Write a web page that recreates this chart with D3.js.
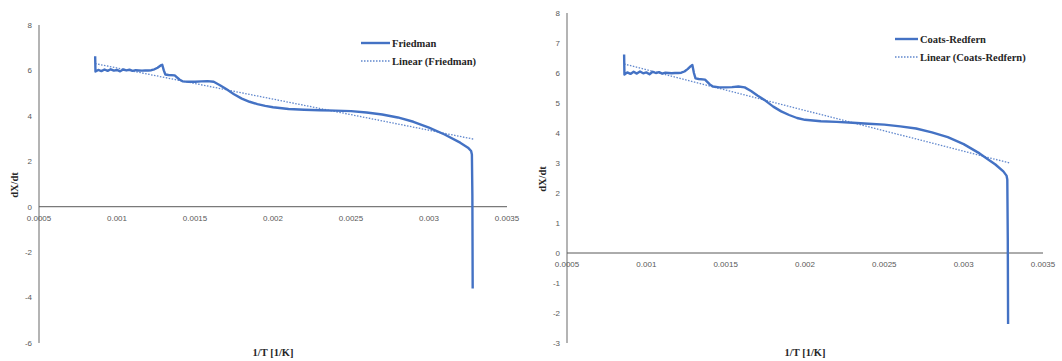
<!DOCTYPE html>
<html lang="en">
<head>
    <meta charset="UTF-8">
    <title>dX/dt vs 1/T</title>
    <script src="https://d3js.org/d3.v7.min.js"></script>
    <style>
        body { margin: 0; background: #fff; }
        .tick-label { font-family: "Liberation Sans", Arial, sans-serif; font-size: 8px; fill: #595959; }
        .title { font-family: "Liberation Serif", "Times New Roman", serif; font-size: 10.5px; font-weight: bold; fill: #262626; }
    </style>
</head>
<body>
    <div class="charts"></div>
    <script>
        // 1/T [1/K]
        const invT = [0.00086, 0.000862, 0.00088, 0.0009, 0.00092, 0.00094, 0.00096, 0.00098, 0.001, 0.00102,
            0.00104, 0.00106, 0.00108, 0.0011, 0.00112, 0.00114, 0.00116, 0.00118, 0.0012, 0.00122,
            0.00124, 0.00126, 0.00128, 0.00129, 0.0013, 0.00131, 0.00133, 0.00137, 0.0014, 0.00142,
            0.00146, 0.0015, 0.00154, 0.00158, 0.00162, 0.00166, 0.0017, 0.00175, 0.0018, 0.00185,
            0.0019, 0.00195, 0.002, 0.0021, 0.0022, 0.0023, 0.0024, 0.0025, 0.0026, 0.0027,
            0.0028, 0.0029, 0.003, 0.0031, 0.0032, 0.00325, 0.00327, 0.003275, 0.003278, 0.00328];

        const friedman = [6.62, 5.95, 6.02, 5.97, 6.04, 5.98, 6.05, 5.99, 6.02, 5.96,
            6.04, 6.0, 6.03, 5.98, 6.01, 6.0, 5.99, 6.0, 6.0, 6.01,
            6.05, 6.12, 6.22, 6.25, 6.0, 5.82, 5.8, 5.78, 5.6, 5.52,
            5.5, 5.5, 5.52, 5.53, 5.5, 5.35, 5.18, 4.95, 4.76, 4.62,
            4.52, 4.44, 4.38, 4.3, 4.27, 4.25, 4.23, 4.21, 4.15, 4.06,
            3.93, 3.74, 3.48, 3.18, 2.82, 2.6, 2.45, 2.3, 0.5, -3.6];

        const coatsRedfern = [6.62, 5.95, 6.02, 5.97, 6.04, 5.98, 6.05, 5.99, 6.02, 5.96,
            6.04, 6.0, 6.03, 5.98, 6.01, 6.0, 5.99, 6.0, 6.0, 6.01,
            6.05, 6.13, 6.23, 6.27, 6.0, 5.82, 5.8, 5.78, 5.62, 5.55,
            5.52, 5.52, 5.53, 5.55, 5.52, 5.4, 5.25, 5.08, 4.88, 4.72,
            4.6, 4.5, 4.44, 4.39, 4.37, 4.34, 4.31, 4.28, 4.22, 4.15,
            4.02, 3.86, 3.63, 3.32, 2.95, 2.72, 2.58, 2.45, 0.5, -2.37];

        // linear trend lines (end points)
        const trendX = [0.00086, 0.00329];
        const trendFriedman = [6.3, 2.97];
        const trendCoats = [6.3, 3.0];

        const xTicks = [0.0005, 0.001, 0.0015, 0.002, 0.0025, 0.003, 0.0035];
        const yTicksLeft = [-6, -4, -2, 0, 2, 4, 6, 8];
        const yTicksRight = [-3, -2, -1, 0, 1, 2, 3, 4, 5, 6, 7, 8];

        const blue = '#4472C4';

        const svg = d3.select('.charts')
            .append('svg')
            .attr('width', 1062)
            .attr('height', 361);

        function drawChart(cfg) {
            const x = d3.scaleLinear().domain([0.0005, 0.0035]).range([cfg.left, cfg.right]);
            const y = d3.scaleLinear().domain(d3.extent(cfg.yTicks)).range([cfg.bottom, cfg.top]);
            const g = svg.append('g');

            // y axis line
            g.append('line')
                .attr('x1', x(0.0005)).attr('x2', x(0.0005))
                .attr('y1', y(cfg.yTicks[0])).attr('y2', y(cfg.yTicks[cfg.yTicks.length - 1]))
                .attr('stroke', '#8c8c8c').attr('stroke-width', 1.3);

            // x axis at y = 0
            g.append('line')
                .attr('x1', x(0.0005)).attr('x2', x(0.0035))
                .attr('y1', y(0)).attr('y2', y(0))
                .attr('stroke', '#595959').attr('stroke-width', 1);

            g.selectAll('.ylab')
                .data(cfg.yTicks)
                .enter()
                .append('text')
                .attr('class', 'tick-label')
                .attr('x', x(0.0005) - 7)
                .attr('y', d => y(d))
                .attr('dy', '0.35em')
                .attr('text-anchor', 'end')
                .text(d => d);

            g.selectAll('.xlab')
                .data(xTicks)
                .enter()
                .append('text')
                .attr('class', 'tick-label')
                .attr('x', d => x(d))
                .attr('y', y(0) + 14)
                .attr('text-anchor', 'middle')
                .text(d => d);

            // axis titles
            g.append('text')
                .attr('class', 'title')
                .attr('x', (cfg.left + cfg.right) / 2)
                .attr('y', 356)
                .attr('text-anchor', 'middle')
                .text('1/T [1/K]');

            g.append('text')
                .attr('class', 'title')
                .attr('transform', `translate(${cfg.left - 21},${cfg.yTitle}) rotate(-90)`)
                .attr('text-anchor', 'middle')
                .text('dX/dt');

            const pts = invT.map((v, i) => [v, cfg.values[i]]);
            const line = d3.line().x(d => x(d[0])).y(d => y(d[1]));

            g.append('path')
                .datum(pts)
                .attr('d', line)
                .attr('fill', 'none')
                .attr('stroke', blue)
                .attr('stroke-width', 2.4)
                .attr('stroke-linejoin', 'round');

            g.append('path')
                .datum(trendX.map((v, i) => [v, cfg.trend[i]]))
                .attr('d', line)
                .attr('fill', 'none')
                .attr('stroke', blue)
                .attr('stroke-opacity', 0.85)
                .attr('stroke-width', 1.3)
                .attr('stroke-dasharray', '1.5,1.5');

            // legend
            const lg = g.append('g').attr('transform', `translate(${cfg.legendX},${cfg.legendY})`);
            lg.append('line').attr('x1', 0).attr('x2', cfg.legendLen).attr('y1', 0).attr('y2', 0)
                .attr('stroke', blue).attr('stroke-width', 2.4);
            lg.append('line').attr('x1', 0).attr('x2', cfg.legendLen).attr('y1', 18).attr('y2', 18)
                .attr('stroke', blue).attr('stroke-opacity', 0.85).attr('stroke-width', 1.3)
                .attr('stroke-dasharray', '1.5,1.5');
            lg.append('text').attr('class', 'title').attr('x', cfg.legendLen + 2).attr('y', 3.5).text(cfg.name);
            lg.append('text').attr('class', 'title').attr('x', cfg.legendLen + 2).attr('y', 21.5).text('Linear (' + cfg.name + ')');
        }

        drawChart({
            left: 39, right: 507, top: 25, bottom: 343, yTitle: 185,
            yTicks: yTicksLeft, values: friedman, trend: trendFriedman,
            name: 'Friedman', legendX: 361, legendY: 43, legendLen: 29
        });

        drawChart({
            left: 567, right: 1043, top: 13, bottom: 343, yTitle: 179,
            yTicks: yTicksRight, values: coatsRedfern, trend: trendCoats,
            name: 'Coats-Redfern', legendX: 895, legendY: 39, legendLen: 23
        });
    </script>
</body>
</html>
